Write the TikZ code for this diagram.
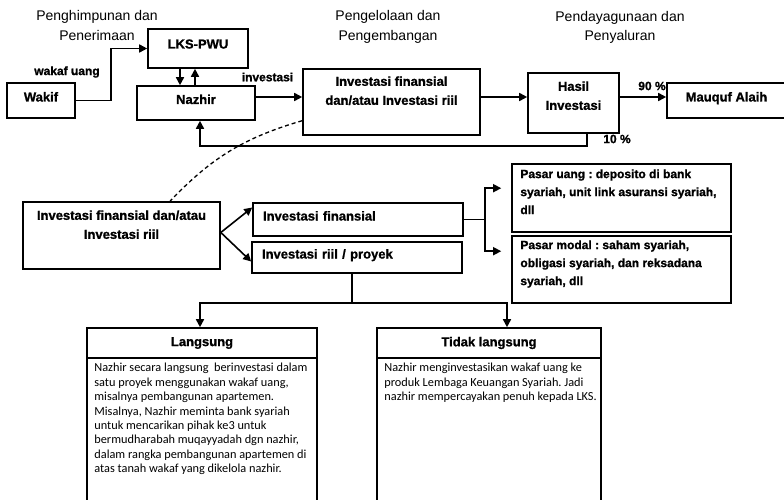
\documentclass[tikz,border=0pt]{standalone}
\usepackage{fontspec}
\setmainfont{Liberation Sans}[BoldFeatures={FakeBold=1.2}]
\newfontfamily\carlito{Carlito}
\frenchspacing
\usetikzlibrary{positioning,calc,arrows.meta}

\begin{document}
\begin{tikzpicture}[
    x=1pt, y=-1pt,
    every node/.style={inner sep=0},
    ln/.style={line width=1.6pt},
    arr/.style={line width=1.6pt, -{Triangle[length=8pt,width=8pt]}},
    box/.style={draw, line width=1.6pt},
    one/.style={text height=9pt, text depth=7pt},
    hd/.style={font=\fontsize{13}{19}\selectfont\bfseries, align=center},
    lbl/.style={font=\fontsize{12}{14}\selectfont\bfseries},
    ttl/.style={font=\fontsize{14}{19.5}\selectfont, align=center},
    pasar/.style={font=\fontsize{12}{18}\selectfont\bfseries, align=left},
    body/.style={font=\carlito\fontsize{12.3}{14.4}\selectfont, align=left}
]
\useasboundingbox (0,0) rectangle (784,500);

\node[ttl] (ttl1) at (97,25.5) {Penghimpunan dan\\Penerimaan};
\node[ttl] (ttl2) at (388,27) {Pengelolaan dan\\Pengembangan};
\node[ttl] (ttl3) at (620,27.5) {Pendayagunaan dan\\Penyaluran};

\node[box, hd, one, minimum width=68pt, minimum height=35pt] (wakif) at (41,100.5) {Wakif};
\node[box, hd, text height=9pt, text depth=9pt, minimum width=100pt, minimum height=39pt] (lks) at (198,48.5) {LKS-PWU};
\node[box, hd, one, minimum width=118pt, minimum height=34pt] (nazhir) at (196,103) {Nazhir};
\node[box, minimum width=177pt, minimum height=66pt] (inv) at (391.5,102) {};
\node[hd, below=8pt of inv.north] (invtxt) {Investasi finansial\\dan/atau Investasi riil};
\node[box, minimum width=91pt, minimum height=60pt] (hasil) at (573.5,103) {};
\node[hd, below=9pt of hasil.north] (hasiltxt) {Hasil\\Investasi};
\node[box, hd, one, minimum width=119pt, minimum height=35pt] (mauquf) at (726.5,100.5) {Mauquf Alaih};

\node[lbl] (wu) at (67,72) {wakaf uang};
\node[lbl] (invlbl) at (267.5,77) {investasi};
\node[lbl] (p90) at (652,86) {90 \%};
\node[lbl] (p10) at (617,139) {10 \%};

\node[box, minimum width=197pt, minimum height=67pt] (big) at (121.5,235.5) {};
\node[hd, below=9pt of big.north] (bigtxt) {Investasi finansial dan/atau\\Investasi riil};
\node[box, hd, one, text width=190pt, align=left, minimum width=210pt, minimum height=33pt] (fin) at (358,219.5) {Investasi finansial};
\node[box, hd, one, text width=190pt, align=left, minimum width=210pt, minimum height=31pt] (riil) at (357,257.5) {Investasi riil / proyek};

\node[box, minimum width=219pt, minimum height=68pt] (pu) at (621.5,198) {};
\node[pasar, below right=6pt and 9pt of pu.north west] (putxt) {Pasar uang : deposito di bank\\syariah, unit link asuransi syariah,\\dll};
\node[box, minimum width=219pt, minimum height=67pt] (pm) at (621.5,269.5) {};
\node[pasar, below right=5pt and 9pt of pm.north west] (pmtxt) {Pasar modal : saham syariah,\\obligasi syariah, dan reksadana\\syariah, dll};

\node[box, hd, minimum width=230pt, minimum height=30pt] (lh) at (202,343) {Langsung};
\node[box, minimum width=230pt, minimum height=145pt] (lb) at (202,430.5) {};
\node[body, below right=6pt and 8pt of lb.north west] (lbtxt) {Nazhir secara langsung~ berinvestasi dalam\\satu proyek menggunakan wakaf uang,\\misalnya pembangunan apartemen.\\Misalnya, Nazhir meminta bank syariah\\untuk mencarikan pihak ke3 untuk\\bermudharabah muqayyadah dgn nazhir,\\dalam rangka pembangunan apartemen di\\atas tanah wakaf yang dikelola nazhir.};
\node[box, hd, minimum width=224pt, minimum height=30pt] (th) at (489,343) {Tidak langsung};
\node[box, minimum width=224pt, minimum height=145pt] (tb) at (489,430.5) {};
\node[body, below right=6pt and 8pt of tb.north west] (tbtxt) {Nazhir menginvestasikan wakaf uang ke\\produk Lembaga Keuangan Syariah. Jadi\\nazhir mempercayakan penuh kepada LKS.};

\coordinate (row) at (0,97);
\draw[arr] (wakif.east) -- ++(35,0) |- (lks.west);
\draw[arr] ([xshift=-18pt]lks.south) -- ([xshift=-18pt]lks.south |- nazhir.north);
\draw[arr] ([xshift=-3pt]lks.south |- nazhir.north) -- ([xshift=-3pt]lks.south);
\draw[arr] (nazhir.east |- row) -- (inv.west |- row);
\draw[arr] (inv.east |- row) -- (hasil.west |- row);
\draw[arr] (hasil.east |- row) -- (mauquf.west |- row);
\draw[arr] ([xshift=13.5pt]hasil.south) -- ++(0,12) -| ([xshift=4pt]nazhir.south);
\draw[line width=1.3pt, dash pattern=on 4pt off 3pt] ([yshift=-18.7pt]inv.west) to[bend right=15] ([xshift=48.5pt]big.north);

\draw[arr] ([yshift=3pt]big.east) -- ([yshift=12pt]fin.west);
\draw[arr] ([yshift=3pt]big.east) -- ([yshift=-4pt]riil.west);
\draw[ln] (fin.east) -- ++(21,0) coordinate (fork);
\draw[arr] (fork) |- ([xshift=-10pt,yshift=-25pt]pu.north west);
\draw[arr] (fork) |- ([xshift=-10pt,yshift=-16pt]pm.north west);
\draw[ln] ([xshift=-5pt]riil.south) -- ++(0,29) coordinate (split);
\draw[arr] (split) -| ([xshift=-2pt]lh.north);
\draw[arr] (split) -| ([xshift=18pt]th.north);
\end{tikzpicture}
\end{document}
